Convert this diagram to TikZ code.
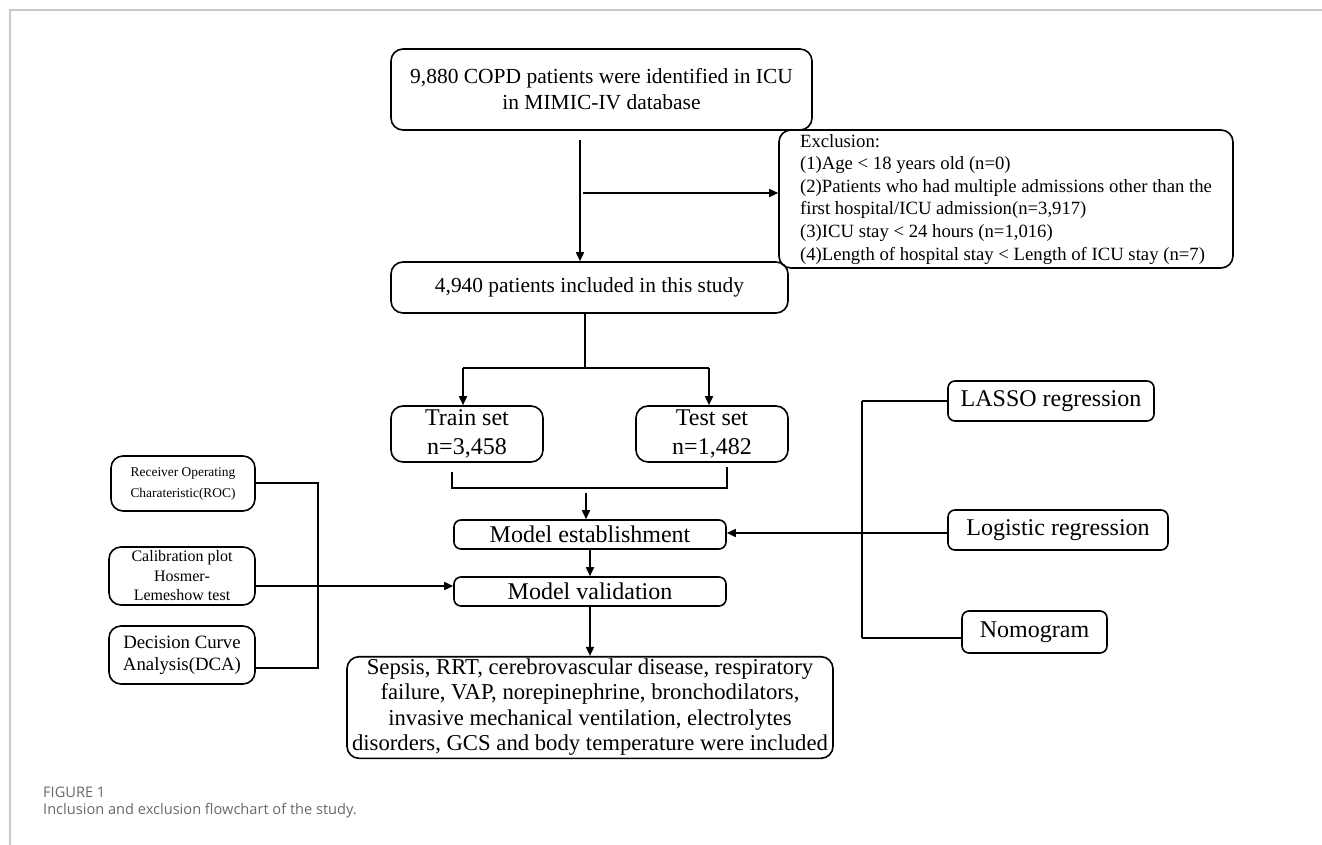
\documentclass[tikz,border=0pt]{standalone}
\usepackage{fontspec}
\setmainfont{Liberation Serif}
\newfontfamily\capfont{Open Sans}
\usetikzlibrary{arrows.meta}
\definecolor{capgray}{HTML}{686868}
\definecolor{framegray}{HTML}{C8C8C8}
\newcommand{\fs}[1]{\fontsize{#1}{1.22\dimexpr#1pt\relax}\selectfont}
\begin{document}
\begin{tikzpicture}[x=1pt,y=-1pt,
  box/.style={draw, line width=1.6pt, rounded corners=12pt, inner sep=0pt, align=center},
  sbox/.style={box, rounded corners=7pt},
  conn/.style={line width=1.6pt},
  arr/.style={line width=1.6pt, -{Triangle[length=9pt,width=8pt]}},
  captext/.style={anchor=west, inner sep=0pt, text=capgray, font=\capfont\fontsize{14.6}{17}\selectfont}]
\useasboundingbox (0,0) rectangle (1322,845);
\draw[framegray, line width=1.5pt] (10,845) -- (10,10) -- (1322,10);

% nodes
\node[box, minimum width=421pt, minimum height=81pt, font={\fontsize{21.5}{26}\selectfont}] (top) at (601.5,89.5)
  {9,880 COPD patients were identified in ICU\\ in MIMIC-IV database};
\node[box, minimum width=454pt, minimum height=138pt, font={\fontsize{18.7}{22.6}\selectfont}] (excl) at (1006,199)
  {\begin{tabular}{@{}l@{}}Exclusion:\\
   (1)Age {\textless} 18 years old (n=0)\\
   (2)Patients who had multiple admissions other than the\\
   first hospital/ICU admission(n=3,917)\\
   (3)ICU stay {\textless} 24 hours (n=1,016)\\
   (4)Length of hospital stay {\textless} Length of ICU stay (n=7)\end{tabular}};
\node[box, minimum width=397pt, minimum height=51pt, font=\fs{21.4}] (incl) at (589.5,287.5)
  {\raisebox{-3pt}{4,940 patients included in this study}};
\node[box, minimum width=152pt, minimum height=56pt, font={\fontsize{24}{29}\selectfont}] (train) at (467,434)
  {Train set\\n=3,458};
\node[box, minimum width=152pt, minimum height=56pt, font={\fontsize{24}{29}\selectfont}] (test) at (712,434)
  {Test set\\n=1,482};
\node[sbox, minimum width=272pt, minimum height=29pt, font=\fs{24}] (est) at (590,534.5)
  {Model establishment};
\node[sbox, minimum width=272pt, minimum height=29pt, font=\fs{24}] (val) at (590,591.5)
  {Model validation};
\node[box, minimum width=486pt, minimum height=101pt, font={\fontsize{22.7}{25.4}\selectfont}] (final) at (590,707.5)
  {\raisebox{-3pt}{\begin{tabular}{@{}c@{}}Sepsis, RRT, cerebrovascular disease, respiratory\\
   failure, VAP, norepinephrine, bronchodilators,\\
   invasive mechanical ventilation, electrolytes\\
   disorders, GCS and body temperature were included\end{tabular}}};
\node[box, minimum width=144pt, minimum height=55pt, font={\fontsize{13.4}{21}\selectfont}] (roc) at (183,483.5)
  {Receiver Operating\\Charateristic(ROC)};
\node[box, minimum width=146pt, minimum height=58pt, font={\fontsize{16}{19.5}\selectfont}] (cal) at (182,576)
  {Calibration plot\\Hosmer-\\Lemeshow test};
\node[box, minimum width=146pt, minimum height=58pt, font={\fontsize{18.8}{22}\selectfont}] (dca) at (182,655)
  {Decision Curve\\Analysis(DCA)};
\node[sbox, minimum width=206pt, minimum height=40pt, font=\fs{24}] (lasso) at (1051,401)
  {\raisebox{-3pt}{LASSO regression}};
\node[sbox, minimum width=220pt, minimum height=40pt, font=\fs{24}] (logit) at (1058,530)
  {\raisebox{-3pt}{Logistic regression}};
\node[sbox, minimum width=145pt, minimum height=42pt, font=\fs{24}] (nomo) at (1034.5,632)
  {\raisebox{-3pt}{Nomogram}};

% connectors, top part
\coordinate (a1) at (580,140);
\draw[arr] (a1) -- (a1 |- incl.north);
\coordinate (a2) at (583,193);
\draw[arr] (a2) -- (a2 -| excl.west);

% split
\coordinate (s0) at (585,368);
\coordinate (sL) at (463,368);
\coordinate (sR) at (709,368);
\draw[conn] (s0 |- incl.south) -- (s0);
\draw[conn] (sL) -- (sR);
\draw[arr] (sL) -- (sL |- train.north);
\draw[arr] (sR) -- (sR |- test.north);

% merge bracket
\coordinate (b1) at (452,472);
\coordinate (b2) at (452,488);
\coordinate (b3) at (727,488);
\coordinate (b4) at (727,467);
\draw[conn] (b1) -- (b2) -- (b3) -- (b4);
\coordinate (m0) at (586,493);
\draw[arr] (m0) -- (m0 |- est.north);
\draw[arr] (est.south) -- (val.north);
\draw[arr] (val.south) -- (final.north);

% right bracket
\coordinate (rT) at (862,401);
\coordinate (rM) at (862,533);
\coordinate (rB) at (862,638);
\draw[conn] (rT) -- (rB);
\draw[conn] (rT) -- (rT -| lasso.west);
\draw[conn] (rM) -- (rM -| logit.west);
\draw[conn] (rB) -- (rB -| nomo.west);
\draw[arr] (rM) -- (rM -| est.east);

% left bracket
\coordinate (lT) at (318,483);
\coordinate (lM) at (318,586);
\coordinate (lB) at (318,668);
\draw[conn] (lT -| roc.east) -- (lT) -- (lB) -- (lB -| dca.east);
\draw[arr] (lM -| cal.east) -- (lM -| val.west);

% caption
\node[captext] (cap1) at (43,792) {FIGURE 1};
\node[captext] (cap2) at (43,811) {Inclusion and exclusion flowchart of the study.};
\end{tikzpicture}
\end{document}
